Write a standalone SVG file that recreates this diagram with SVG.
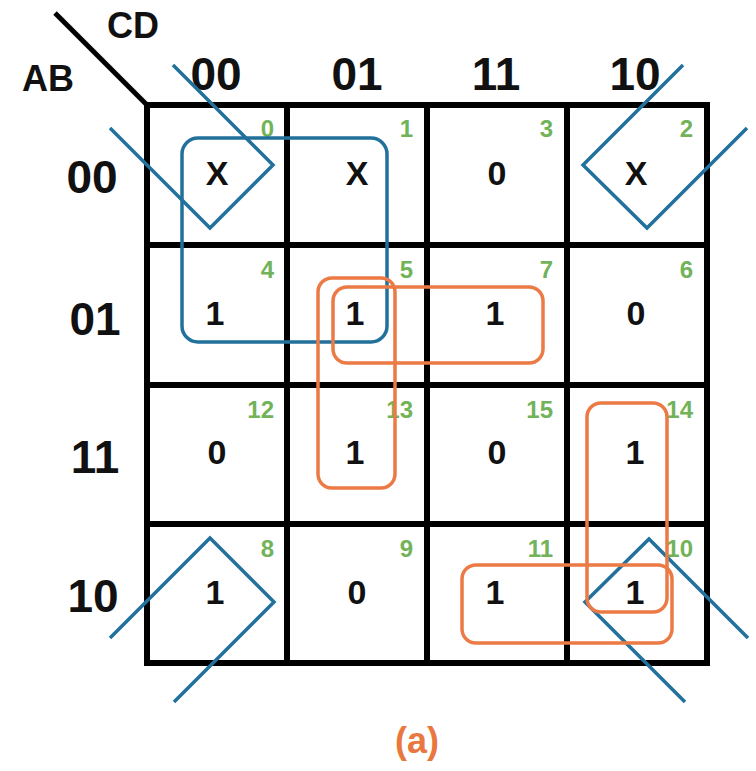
<svg xmlns="http://www.w3.org/2000/svg" width="756" height="771" viewBox="0 0 756 771">
  <style>
    .hdr { font-family: "Liberation Sans", Arial, sans-serif; font-weight: bold; fill: #111; }
    .axis { font-size: 36px; }
    .lbl { font-size: 46px; text-anchor: middle; }
    .val { font-family: "Liberation Sans", Arial, sans-serif; font-weight: bold; font-size: 34px; text-anchor: middle; fill: #111; }
    .idx { font-family: "Liberation Sans", Arial, sans-serif; font-weight: bold; font-size: 24px; text-anchor: end; fill: #72b35a; }
    .grid { fill: none; stroke: #000; stroke-width: 6; }
    .blue { fill: none; stroke: #22709c; stroke-width: 3.5; stroke-linejoin: miter; }
    .orange { fill: none; stroke: #ec7a45; stroke-width: 3.5; }
  </style>

  <rect width="756" height="771" fill="#fff"/>

  <!-- corner labels and divider -->
  <line x1="55" y1="13" x2="147" y2="105" stroke="#000" stroke-width="5"/>
  <text class="hdr axis" x="107" y="38">CD</text>
  <text class="hdr axis" x="22" y="91">AB</text>

  <!-- column headers -->
  <text class="hdr lbl" x="216" y="90">00</text>
  <text class="hdr lbl" x="357" y="90">01</text>
  <text class="hdr lbl" x="496" y="90">11</text>
  <text class="hdr lbl" x="635" y="90">10</text>

  <!-- row headers -->
  <text class="hdr lbl" x="92" y="193">00</text>
  <text class="hdr lbl" x="95" y="335">01</text>
  <text class="hdr lbl" x="95" y="473">11</text>
  <text class="hdr lbl" x="93" y="612">10</text>

  <!-- grid -->
  <g id="grid">
    <rect class="grid" x="147" y="105" width="560" height="558"/>
    <line class="grid" x1="287" y1="105" x2="287" y2="663"/>
    <line class="grid" x1="427" y1="105" x2="427" y2="663"/>
    <line class="grid" x1="567" y1="105" x2="567" y2="663"/>
    <line class="grid" x1="147" y1="245" x2="707" y2="245"/>
    <line class="grid" x1="147" y1="385" x2="707" y2="385"/>
    <line class="grid" x1="147" y1="524" x2="707" y2="524"/>
  </g>

  <!-- cells: value and minterm index -->
  <g id="m0"><text class="val" x="217" y="185">X</text><text class="idx" x="274" y="137">0</text></g>
  <g id="m1"><text class="val" x="357" y="185">X</text><text class="idx" x="413" y="137">1</text></g>
  <g id="m3"><text class="val" x="497" y="185">0</text><text class="idx" x="553" y="137">3</text></g>
  <g id="m2"><text class="val" x="636" y="185">X</text><text class="idx" x="693" y="137">2</text></g>

  <g id="m4"><text class="val" x="215" y="325">1</text><text class="idx" x="274" y="278">4</text></g>
  <g id="m5"><text class="val" x="355" y="325">1</text><text class="idx" x="413" y="278">5</text></g>
  <g id="m7"><text class="val" x="495" y="325">1</text><text class="idx" x="553" y="278">7</text></g>
  <g id="m6"><text class="val" x="636" y="325">0</text><text class="idx" x="693" y="278">6</text></g>

  <g id="m12"><text class="val" x="217" y="464">0</text><text class="idx" x="274" y="418">12</text></g>
  <g id="m13"><text class="val" x="355" y="464">1</text><text class="idx" x="413" y="418">13</text></g>
  <g id="m15"><text class="val" x="497" y="464">0</text><text class="idx" x="553" y="418">15</text></g>
  <g id="m14"><text class="val" x="635" y="464">1</text><text class="idx" x="693" y="418">14</text></g>

  <g id="m8"><text class="val" x="215" y="604">1</text><text class="idx" x="274" y="557">8</text></g>
  <g id="m9"><text class="val" x="357" y="604">0</text><text class="idx" x="413" y="557">9</text></g>
  <g id="m11"><text class="val" x="495" y="604">1</text><text class="idx" x="553" y="557">11</text></g>
  <g id="m10"><text class="val" x="635" y="604">1</text><text class="idx" x="693" y="557">10</text></g>

  <!-- implicant loops -->
  <g id="loops">
    <!-- blue: A'C' quad (0,1,4,5) -->
    <rect class="blue" x="182" y="138" width="205" height="204" rx="16"/>
    <!-- blue: four corners (0,2,8,10), wrapping around the map edges -->
    <polyline class="blue" points="110,128 210,228 273,165 173,65"/>
    <polyline class="blue" points="683,65 583,165 647,228 747,128"/>
    <polyline class="blue" points="110,638 210,538 274,602 174,702"/>
    <polyline class="blue" points="748,638 649,539 585,602 685,702"/>

    <!-- orange pairs -->
    <rect class="orange" x="318" y="278" width="77" height="210" rx="14"/>
    <rect class="orange" x="333" y="287" width="210" height="76" rx="14"/>
    <rect class="orange" x="587" y="403" width="80" height="209" rx="14"/>
    <rect class="orange" x="462" y="565" width="210" height="78" rx="14"/>
  </g>

  <text x="417" y="753" font-family="Liberation Sans, Arial, sans-serif" font-weight="bold" font-size="36" text-anchor="middle" fill="#e8783f">(a)</text>
</svg>
